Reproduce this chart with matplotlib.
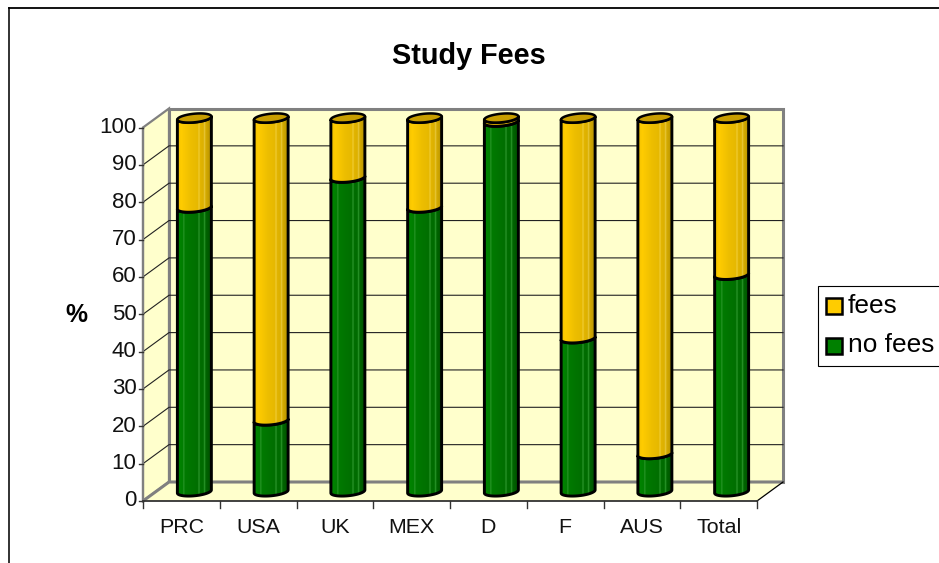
#!/usr/bin/env python3
# -*- coding: utf-8 -*-
"""
Study Fees chart, old Excel style with fake 3D cylinders
"""

import matplotlib
matplotlib.use("Agg")
import matplotlib.pyplot as plt
import numpy as np
from matplotlib.colors import LinearSegmentedColormap
from matplotlib.patches import Polygon, Rectangle

categories = ["PRC", "USA", "UK", "MEX", "D", "F", "AUS", "Total"]
no_fees = [76, 19, 84, 76, 99, 41, 10, 58]
fees = [24, 81, 16, 24, 1, 59, 90, 42]
y_ticks = [0, 10, 20, 30, 40, 50, 60, 70, 80, 90, 100]

W, H = 939, 563
plt.rcParams["font.family"] = ["Liberation Sans", "DejaVu Sans"]

fig = plt.figure(figsize=(W / 100, H / 100), dpi=100)

# front plot area in pixels
left, right, bottom, top = 143, 757, 501, 127.5
ax = fig.add_axes([left / W, 1 - bottom / H, (right - left) / W, (bottom - top) / H])
ax.set_xlim(0, len(categories))
ax.set_ylim(0, 100)
ax.axis("off")

# depth of the fake 3D box, in data units
depth_x = 26 / ((right - left) / len(categories))
depth_y = 19 / ((bottom - top) / 100)

WALL = "#FFFFCC"
GREY = "#808080"
n = len(categories)

# walls and floor
ax.add_patch(Polygon([(0, 0), (depth_x, depth_y), (depth_x, 100 + depth_y), (0, 100)],
                     facecolor=WALL, edgecolor=GREY, lw=1.6, clip_on=False, zorder=1))
ax.add_patch(Rectangle((depth_x, depth_y), n, 100, facecolor=WALL, edgecolor=GREY,
                       lw=2.2, clip_on=False, zorder=1))
ax.add_patch(Polygon([(0, 0), (n, 0), (n + depth_x, depth_y), (depth_x, depth_y)],
                     facecolor=WALL, edgecolor="none", clip_on=False, zorder=1))
ax.plot([0, depth_x, n + depth_x], [0, depth_y, depth_y], color=GREY, lw=2.2,
        clip_on=False, zorder=2, solid_capstyle="butt")
ax.plot([n, n + depth_x], [0, depth_y], color="black", lw=0.9, clip_on=False, zorder=2)

# gridlines, along the side wall and the back wall
for v in y_ticks[1:-1]:
    ax.plot([0, depth_x, n + depth_x], [v, v + depth_y, v + depth_y], color="#222222",
            lw=0.8, clip_on=False, zorder=2)

# axis lines and ticks
ax.plot([0, 0], [0, 100], color=GREY, lw=1.6, clip_on=False, zorder=3)
ax.plot([0, n], [0, 0], color="#333333", lw=1.3, clip_on=False, zorder=3)
for v in y_ticks:
    ax.plot([-0.055, 0], [v, v], color="#333333", lw=1.0, clip_on=False, zorder=3)
    ax.text(-0.085, v, str(v), ha="right", va="center", fontsize=16, color="#111111")
for i in range(n + 1):
    ax.plot([i, i], [0, -1.9], color="#333333", lw=1.0, clip_on=False, zorder=3)
for i, name in enumerate(categories):
    ax.text(i + 0.5, -7.0, name, ha="center", va="center", fontsize=15.4, color="#111111")

green_cmap = LinearSegmentedColormap.from_list(
    "green", [(0, "#006A00"), (0.06, "#008400"), (0.17, "#007C00"), (0.19, "#35A035"),
              (0.22, "#007A00"), (0.6, "#006E00"), (0.63, "#35A035"), (0.66, "#006C00"),
              (0.76, "#006C00"), (0.79, "#35A035"), (0.82, "#006600"), (1, "#004C00")])
gold_cmap = LinearSegmentedColormap.from_list(
    "gold", [(0, "#F2C200"), (0.12, "#FFCC00"), (0.4, "#EDBE00"), (0.6, "#E6B800"),
             (0.63, "#F2D040"), (0.66, "#E2B400"), (0.76, "#DCB000"), (0.79, "#ECCC48"),
             (0.82, "#D6AC00"), (1, "#B08C00")])

half_w = 0.2215   # half of the cylinder width, categories
cap_h = 1.15      # half height of the end ellipses, value units
cap_tilt = 0.42   # the ellipses lean up to the right
t = np.linspace(0, np.pi, 40)


def rim(center, level, lower=True):
    """Points of an end ellipse from left to right, lower or upper half"""
    a = -np.cos(t)
    b = np.sin(t) * (-1 if lower else 1)
    return np.column_stack([center + half_w * a, level + cap_h * b + cap_tilt * a])


def draw_segment(center, low, high, cmap, zorder):
    """One stacked piece of a cylinder, shaded across its width"""
    outline = np.vstack([rim(center, low), rim(center, high)[::-1]])
    body = Polygon(outline, closed=True, facecolor="none", edgecolor="none", zorder=zorder)
    ax.add_patch(body)
    img = ax.imshow(np.linspace(0, 1, 200).reshape(1, -1), cmap=cmap, aspect="auto",
                    extent=(center - half_w, center + half_w, low - 3, high + 3),
                    zorder=zorder, interpolation="bilinear")
    # the image has to reach above the axes box, so only the body clips it
    img.set_clip_box(fig.bbox)
    img.set_clip_path(body)
    ax.add_patch(Polygon(outline, closed=True, facecolor="none", edgecolor="black",
                         lw=2.1, joinstyle="round", zorder=zorder + 0.1, clip_on=False))


for i in range(n):
    cx = i + 0.5 + depth_x / 2
    base = depth_y / 2
    draw_segment(cx, base, base + no_fees[i], green_cmap, 4)
    draw_segment(cx, base + no_fees[i], base + 100, gold_cmap, 5)
    # top cap
    cap = np.vstack([rim(cx, base + 100), rim(cx, base + 100, lower=False)[::-1]])
    ax.add_patch(Polygon(cap, closed=True, facecolor="#C89E00", edgecolor="black", lw=1.8,
                         zorder=6, clip_on=False))

ax.set_xlim(0, n)
ax.set_ylim(0, 100)

# titles and legend sit outside the plot, use figure pixels
fig.text(469 / W, 1 - 56 / H, "Study Fees", ha="center", va="center", fontsize=20.8,
         fontweight="bold", color="black")
fig.text(76 / W, 1 - 315 / H, "%", ha="center", va="center", fontsize=17.8,
         fontweight="bold", color="black")

# chart frame
fig.add_artist(plt.Line2D([9 / W, 9 / W], [0, 1 - 8 / H], color="#222222", lw=1.3))
fig.add_artist(plt.Line2D([9 / W, 1], [1 - 8 / H, 1 - 8 / H], color="black", lw=1.3))

# legend box
fig.add_artist(Rectangle((817.5 / W, 1 - 366 / H), 122 / W, 80 / H, transform=fig.transFigure,
                         facecolor="white", edgecolor="black", lw=0.8))
for y_px, col, label in [(306, "#FFCC00", "fees"), (345.5, "#008000", "no fees")]:
    fig.add_artist(Rectangle((825.5 / W, 1 - (y_px + 8) / H), 16 / W, 16 / H,
                             transform=fig.transFigure, facecolor=col, edgecolor="black", lw=1.8))
    fig.text(848 / W, 1 - y_px / H, label, ha="left", va="center", fontsize=18.9, color="black")

fig.savefig("out.png", dpi=100)
